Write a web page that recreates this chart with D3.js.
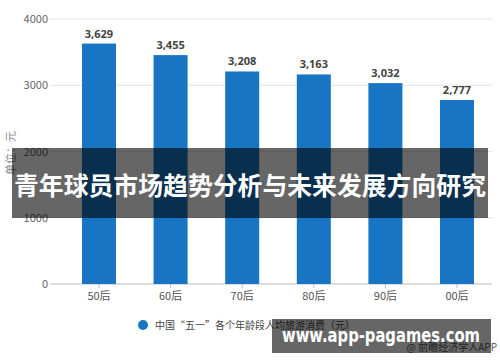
<!doctype html>
<html lang="zh">
<head>
<meta charset="utf-8">
<style>
  body { margin: 0; background: #fff; }
  svg { display: block; font-family: "Noto Sans CJK SC", "Noto Sans", sans-serif; }
</style>
</head>
<body>
<svg id="chart" width="500" height="362"></svg>
<script src="https://cdn.jsdelivr.net/npm/d3@7"></script>
<script>
var categories = ["50后", "60后", "70后", "80后", "90后", "00后"];
var values = [3629, 3455, 3208, 3163, 3032, 2777];
var yTicks = [0, 1000, 2000, 3000, 4000];
var seriesName = "中国\u201c五一\u201d各个年龄段人均旅游消费（元）";

var svg = d3.select("#chart");
var plotL = 54, plotR = 492, plotT = 19, plotB = 284;

var x = d3.scaleBand().domain(categories).range([60.5, 495.5]).paddingInner(0.525).paddingOuter(0.3);
var y = d3.scaleLinear().domain([0, 4000]).range([plotB, plotT]);

// grid lines
svg.append("g").selectAll("line").data(yTicks).enter().append("line")
    .attr("x1", plotL - 4).attr("x2", plotR)
    .attr("y1", function(d) { return y(d); }).attr("y2", function(d) { return y(d); })
    .attr("stroke", function(d) { return d === 0 ? "#bbb" : "#e3e3e3"; })
    .attr("stroke-width", 1);

// y labels
svg.append("g").selectAll("text").data(yTicks).enter().append("text")
    .attr("x", plotL - 6).attr("y", function(d) { return y(d) + 4; })
    .attr("text-anchor", "end").attr("font-size", 11).attr("fill", "#666")
    .text(function(d) { return d; });

svg.append("text")
    .attr("transform", "translate(15,153) rotate(-90)")
    .attr("text-anchor", "middle").attr("font-size", 11).attr("fill", "#888")
    .text("单位：元");

// x axis ticks
var xAxis = d3.axisBottom(x).tickSize(4).tickPadding(4);
var gx = svg.append("g").attr("transform", "translate(0," + plotB + ")").call(xAxis);
gx.select(".domain").remove();
gx.selectAll("line").attr("stroke", "#bbb");
gx.selectAll("text").attr("font-size", 11).attr("fill", "#555")
    .attr("font-family", "\"Noto Sans CJK SC\", sans-serif");

// bars
svg.append("g").selectAll("rect").data(values).enter().append("rect")
    .attr("x", function(d, i) { return x(categories[i]); })
    .attr("width", x.bandwidth())
    .attr("y", function(d) { return y(d); })
    .attr("height", function(d) { return plotB - y(d); })
    .attr("fill", "#1775c3");

svg.append("g").selectAll("text").data(values).enter().append("text")
    .attr("x", function(d, i) { return x(categories[i]) + x.bandwidth() / 2; })
    .attr("y", function(d) { return y(d) - 6; })
    .attr("text-anchor", "middle").attr("font-size", 11).attr("font-weight", "bold")
    .attr("fill", "#444").attr("font-family", "\"Open Sans\", sans-serif")
    .text(function(d) { return d3.format(",")(d); });

// legend
svg.append("circle").attr("cx", 143).attr("cy", 325).attr("r", 5).attr("fill", "#1775c3");
svg.append("text").attr("x", 155).attr("y", 329).attr("font-size", 10).attr("fill", "#444")
    .text(seriesName);

svg.append("text").attr("x", 497).attr("y", 351).attr("text-anchor", "end")
    .attr("font-size", 10).attr("fill", "#555").text("@ 前瞻经济学人APP");

// overlays
svg.append("rect").attr("x", 12).attr("y", 148).attr("width", 476).attr("height", 70)
    .attr("fill", "rgba(0,0,0,0.6)");
svg.append("text").attr("x", 14).attr("y", 195)
    .attr("font-size", 25).attr("font-weight", "bold").attr("fill", "#fff")
    .attr("textLength", 472).attr("lengthAdjust", "spacingAndGlyphs")
    .text("青年球员市场趋势分析与未来发展方向研究");

svg.append("rect").attr("x", 272).attr("y", 319).attr("width", 219).attr("height", 34)
    .attr("fill", "rgba(0,0,0,0.6)");
svg.append("text").attr("x", 282).attr("y", 342)
    .attr("font-size", 19).attr("font-weight", "bold").attr("fill", "#fff")
    .attr("font-family", "\"DejaVu Sans\", sans-serif")
    .attr("textLength", 198).attr("lengthAdjust", "spacingAndGlyphs")
    .text("www.app-pagames.com");
</script>
</body>
</html>
